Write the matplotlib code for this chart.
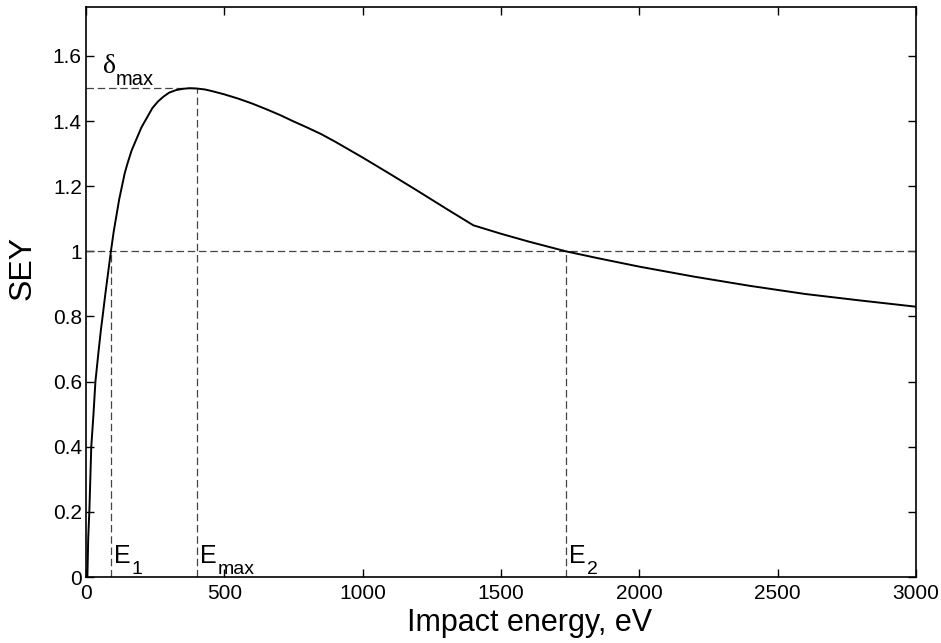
import matplotlib
matplotlib.use("Agg")
import matplotlib.pyplot as plt
from matplotlib.ticker import FuncFormatter

plt.rcParams['font.family'] = ['Liberation Sans', 'DejaVu Sans']

# secondary electron yield vs. primary impact energy
energy = [5, 8, 12, 19, 27, 34, 45, 54, 60, 70, 80, 90, 100, 110, 120, 130,
          140, 150, 165, 180, 200, 220, 240, 260, 280, 300, 325, 350, 375,
          400, 430, 460, 500, 550, 600, 650, 700, 750, 800, 850, 900, 1000,
          1100, 1200, 1300, 1400, 1500, 1600, 1735, 1850, 2000, 2200, 2400,
          2600, 2800, 3000]
sey = [0.0, 0.12, 0.2, 0.4, 0.5, 0.6, 0.69, 0.76, 0.80, 0.87, 0.935, 1.0,
       1.06, 1.11, 1.16, 1.20, 1.24, 1.27, 1.31, 1.34, 1.38, 1.41, 1.44,
       1.46, 1.475, 1.487, 1.495, 1.499, 1.501, 1.5, 1.497, 1.491, 1.482,
       1.469, 1.454, 1.437, 1.419, 1.399, 1.38, 1.36, 1.337, 1.288, 1.237,
       1.185, 1.132, 1.08, 1.054, 1.030, 1.0, 0.979, 0.953, 0.922, 0.894,
       0.869, 0.849, 0.83]

delta_max = 1.5
e_max = 400
e1 = 90
e2 = 1735

fig = plt.figure(figsize=(9.41, 6.43), dpi=100)
ax = fig.add_axes([0.0914, 0.1026, 0.882, 0.8864])

dash = dict(color='#444444', lw=0.9, dashes=(6, 3))
ax.plot([0, 3000], [1, 1], **dash)
ax.plot([0, e_max], [delta_max, delta_max], **dash)
ax.plot([e1, e1], [0, 1], **dash)
ax.plot([e_max, e_max], [0, delta_max], **dash)
ax.plot([e2, e2], [0, 1], **dash)

ax.plot(energy, sey, color='black', lw=1.4)


def label(x, y, dx, dy, main, sub, size=18, subsize=14, sub_dx=12.3,
          sub_dy=-8.2, **kw):
    # main symbol plus a lowered subscript, positioned in points from (x, y)
    ax.annotate(main, (x, y), xytext=(dx, dy), textcoords='offset points',
                fontsize=size, va='baseline', ha='left', **kw)
    ax.annotate(sub, (x, y), xytext=(dx + sub_dx, dy + sub_dy),
                textcoords='offset points', fontsize=subsize,
                va='baseline', ha='left')


label(0, delta_max, 12.5, 11, '\u03b4', 'max', size=20, subsize=14.5,
      sub_dx=9, sub_dy=-8.5, family='Liberation Serif')
label(e1, 0, 2.5, 10.3, 'E', '1')
label(e_max, 0, 2.5, 10.3, 'E', 'max')
label(e2, 0, 2.5, 10.3, 'E', '2')

ax.set_xlim(0, 3000)
ax.set_ylim(0, 1.75)
ax.set_xticks(range(0, 3001, 500))
ax.set_yticks([0, 0.2, 0.4, 0.6, 0.8, 1.0, 1.2, 1.4, 1.6])
ax.yaxis.set_major_formatter(FuncFormatter(lambda v, p: '%g' % round(v, 2)))
ax.tick_params(direction='in', length=6, width=1, labelsize=15,
               top=True, right=True)
ax.tick_params(axis='x', pad=5)
ax.tick_params(axis='y', pad=3)
for sp in ax.spines.values():
    sp.set_linewidth(1.2)

ax.set_xlabel('Impact energy, eV', fontsize=22)
ax.xaxis.set_label_coords(0.535, -0.055)
ax.set_ylabel('SEY', fontsize=23)
ax.yaxis.set_label_coords(-0.058, 0.542)

fig.savefig('out.png', dpi=100)
